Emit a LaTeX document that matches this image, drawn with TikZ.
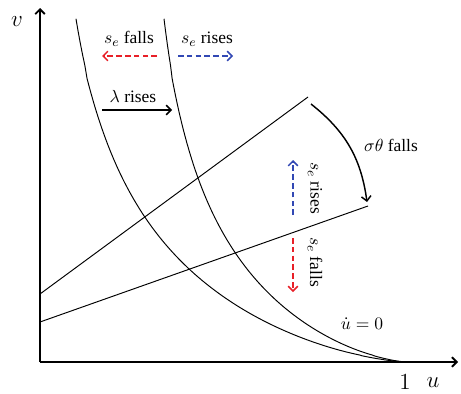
\documentclass[tikz,border=0pt]{standalone}
\usepackage{amsmath}
\usepackage{fontspec}
\setmainfont{Liberation Serif}
\usepackage{tikz}
\usetikzlibrary{positioning, arrows.meta}
\usepackage{xcolor}
\definecolor{sered}{RGB}{232,32,40}
\definecolor{seblue}{RGB}{50,72,180}

\begin{document}
\begin{tikzpicture}[
x=0.625pt, y=-0.625pt,
>={Straight Barb[length=3pt, width=6pt]},
axis/.style={line width=1.2pt, ->},
curve/.style={line width=0.6pt},
shift arrow/.style={line width=0.9pt, ->},
dash arrow/.style={line width=0.9pt, ->, dash pattern=on 3.5pt off 2pt},
every node/.style={inner sep=1pt, font=\fontsize{10.9}{13}\selectfont},
axis label/.style={font=\fontsize{15}{18}\selectfont}
]
\useasboundingbox (0,0) rectangle (461,394);
% axes
\coordinate (O) at (40,362);
\coordinate (yend) at (40,8);
\coordinate (xend) at (458,362);
\draw[axis] (O) to (yend);
\draw[axis] (O) to (xend);
\node[axis label] (vlab) at (17,22) {$v$};
\node[axis label] (ulab) at (433,383) {$u$};
\node[axis label] (one) at (405,382) {$1$};
% udot = 0 curves
\draw[curve] plot[domain=0.098:0.999, samples=150, variable=\t]
  ({40+367*\t},{362-129.66*(1-\t)^1.475/\t^0.485});
\draw[curve] plot[domain=0.098:0.999, samples=150, variable=\t]
  ({137.6+269.4*\t},{362-129.66*(1-\t)^1.475/\t^0.485});
\node (udot) at (362,324) {$\dot u = 0$};
% lines
\coordinate (a1) at (40,294);
\coordinate (a2) at (308,97);
\coordinate (b1) at (40,322);
\coordinate (b2) at (368,206);
\draw[curve] (a1) to (a2);
\draw[curve] (b1) to (b2);
% sigma theta
\coordinate (st1) at (311,104);
\coordinate (st2) at (367,202);
\draw[shift arrow] (st1) to [bend left=22] (st2);
\node (stlab) at (391,145) {$\sigma\theta$ falls};
% lambda
\coordinate (l1) at (102,110);
\coordinate (l2) at (172,110);
\draw[shift arrow] (l1) to (l2);
\node (llab) at (133,97) {$\lambda$ rises};
% s_e top
\coordinate (r1) at (157,56);
\coordinate (r2) at (102,56);
\coordinate (q1) at (178,56);
\coordinate (q2) at (233,56);
\draw[dash arrow, sered] (r1) to (r2);
\draw[dash arrow, seblue] (q1) to (q2);
\node (sfalls) at (129,39) {$s_e$ falls};
\node (srises) at (207,39) {$s_e$ rises};
% s_e right
\coordinate (vq1) at (293,215);
\coordinate (vq2) at (293,160);
\coordinate (vr1) at (293,238);
\coordinate (vr2) at (293,292);
\draw[dash arrow, seblue] (vq1) to (vq2);
\draw[dash arrow, sered] (vr1) to (vr2);
\node[rotate=-90] (vsrises) at (315,188) {$s_e$ rises};
\node[rotate=-90] (vsfalls) at (315,262) {$s_e$ falls};
\end{tikzpicture}
\end{document}
